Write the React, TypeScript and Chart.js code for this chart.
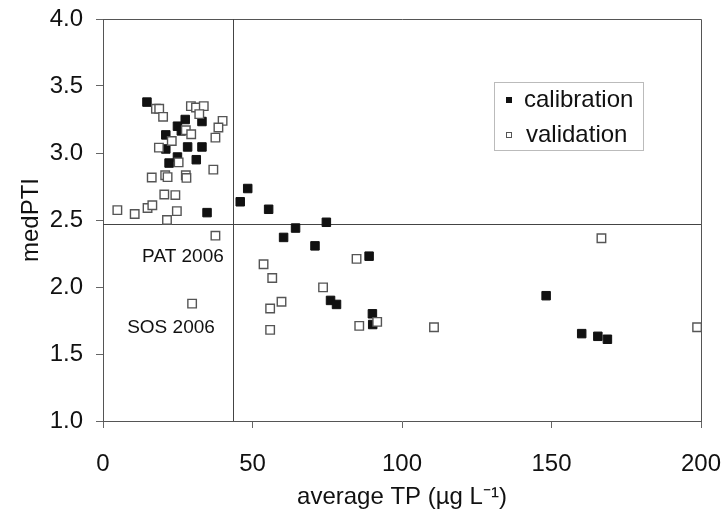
import { useEffect, useRef } from "react";
import { Chart, registerables } from "chart.js";

Chart.register(...registerables);

// ---- data ----
const seriesNames = ["calibration", "validation"];

const calibrationTP = [
  14.7, 27.5, 24.9, 33.1, 26.2, 21.0, 21.0, 28.3, 33.1, 24.9, 31.2, 22.1, 34.8,
  48.4, 45.9, 55.4, 64.4, 60.4, 74.7, 70.9, 89.0, 76.1, 78.1, 90.1, 90.2,
  148.2, 160.1, 165.5, 168.7,
];
const calibrationPTI = [
  3.38, 3.25, 3.2, 3.235, 3.165, 3.135, 3.03, 3.045, 3.045, 2.97, 2.95, 2.925, 2.555,
  2.735, 2.636, 2.58, 2.44, 2.37, 2.483, 2.307, 2.23, 1.9, 1.87, 1.8, 1.72,
  1.935, 1.652, 1.632, 1.61,
];

const validationTP = [
  17.7, 18.8, 20.1, 29.4, 31.1, 33.7, 32.2, 40.0, 38.6, 37.6, 27.7, 29.5, 23.0,
  18.7, 25.3, 36.9, 16.3, 20.8, 21.6, 27.7, 27.9, 20.5, 24.2, 4.8, 10.6, 14.9,
  16.5, 24.7, 21.4, 37.6, 29.8, 53.7, 56.6, 59.7, 55.9, 55.9, 84.8, 73.6, 91.7,
  85.7, 110.7, 166.7, 198.7,
];
const validationPTI = [
  3.33, 3.33, 3.27, 3.35, 3.34, 3.35, 3.29, 3.24, 3.19, 3.115, 3.17, 3.14, 3.09,
  3.04, 2.93, 2.876, 2.817, 2.834, 2.82, 2.834, 2.814, 2.69, 2.686, 2.574, 2.545, 2.59,
  2.61, 2.566, 2.5, 2.383, 1.876, 2.17, 2.067, 1.89, 1.84, 1.68, 2.21, 1.997, 1.74,
  1.71, 1.7, 2.364, 1.7,
];

const xTickValues = [0, 50, 100, 150, 200];
const yTickValues = [1.0, 1.5, 2.0, 2.5, 3.0, 3.5, 4.0];

const thresholdTP = 43.6;
const thresholdPTI = 2.47;

const noteLabels = ["PAT 2006", "SOS 2006"];
const noteTP = [40.4, 37.4];
const notePTI = [2.226, 1.697];

const FONT = '"Liberation Sans", Arial, sans-serif';

export default function App() {
  const canvasRef = useRef<HTMLCanvasElement | null>(null);

  useEffect(() => {
    const canvas = canvasRef.current;
    if (!canvas) return;

    const overlayPlugin = {
      id: "overlay",
      beforeDatasetsDraw(chart: any) {
        const { ctx, chartArea } = chart;
        const xs = chart.scales.x;
        const ys = chart.scales.y;
        ctx.save();
        // frame
        ctx.strokeStyle = "#555";
        ctx.lineWidth = 1;
        ctx.beginPath();
        ctx.moveTo(chartArea.left, chartArea.top + 0.5);
        ctx.lineTo(chartArea.right + 0.5, chartArea.top + 0.5);
        ctx.lineTo(chartArea.right + 0.5, chartArea.bottom);
        ctx.stroke();
        // threshold lines
        ctx.strokeStyle = "#444";
        const vx = Math.round(xs.getPixelForValue(thresholdTP)) + 0.5;
        const hy = Math.round(ys.getPixelForValue(thresholdPTI)) + 0.5;
        ctx.beginPath();
        ctx.moveTo(vx, chartArea.top);
        ctx.lineTo(vx, chartArea.bottom);
        ctx.moveTo(chartArea.left, hy);
        ctx.lineTo(chartArea.right, hy);
        ctx.stroke();
        // notes
        ctx.fillStyle = "#111";
        ctx.font = `19px ${FONT}`;
        ctx.textAlign = "right";
        ctx.textBaseline = "middle";
        noteLabels.forEach((t, i) => {
          ctx.fillText(t, xs.getPixelForValue(noteTP[i]), ys.getPixelForValue(notePTI[i]));
        });
        ctx.restore();
      },
      afterDraw(chart: any) {
        const { ctx, chartArea } = chart;
        ctx.save();
        const bx = chartArea.right - 207;
        const by = chartArea.top + 63;
        const bw = 149;
        const bh = 68;
        ctx.strokeStyle = "#bbb";
        ctx.lineWidth = 1;
        ctx.strokeRect(bx + 0.5, by + 0.5, bw, bh);
        ctx.font = `24px ${FONT}`;
        ctx.textAlign = "left";
        ctx.textBaseline = "middle";
        const rows = [by + 18, by + 53];
        ctx.fillStyle = "#111";
        ctx.fillRect(bx + 12, rows[0] - 3, 6, 6);
        ctx.fillStyle = "#fff";
        ctx.strokeStyle = "#555";
        ctx.fillRect(bx + 12, rows[1] - 3, 6, 6);
        ctx.strokeRect(bx + 12.5, rows[1] - 2.5, 5, 5);
        ctx.fillStyle = "#111";
        ctx.fillText(seriesNames[0], bx + 30, rows[0]);
        ctx.fillText(seriesNames[1], bx + 32, rows[1]);
        ctx.restore();
      },
    };

    const chart = new Chart(canvas, {
      type: "scatter",
      data: {
        datasets: [
          {
            label: seriesNames[0],
            data: calibrationTP.map((x, i) => ({ x, y: calibrationPTI[i] })),
            pointStyle: "rect",
            pointRadius: 6,
            backgroundColor: "#111",
            borderColor: "#111",
            borderWidth: 1,
            order: 2,
          },
          {
            label: seriesNames[1],
            data: validationTP.map((x, i) => ({ x, y: validationPTI[i] })),
            pointStyle: "rect",
            pointRadius: 6,
            backgroundColor: "#fff",
            borderColor: "#555",
            borderWidth: 1.4,
            order: 1,
          },
        ],
      },
      options: {
        responsive: false,
        animation: false,
        devicePixelRatio: 1,
        layout: { padding: { top: 19, right: 20, left: 0, bottom: 0 } },
        plugins: {
          legend: { display: false },
          tooltip: { enabled: false },
        },
        scales: {
          x: {
            type: "linear",
            min: 0,
            max: 200,
            afterBuildTicks: (s: any) => {
              s.ticks = xTickValues.map((v) => ({ value: v }));
            },
            afterFit: (s: any) => {
              s.height = 92;
              s.paddingLeft = 0;
              s.paddingRight = 0;
            },
            ticks: {
              color: "#111",
              font: { family: FONT, size: 24 },
              padding: 22,
              maxRotation: 0,
            },
            grid: {
              drawOnChartArea: false,
              drawTicks: true,
              tickLength: 7,
              color: "#666",
            },
            border: { display: true, color: "#555", width: 1 },
            title: {
              display: true,
              text: "average TP (µg L⁻¹)",
              color: "#111",
              font: { family: FONT, size: 24 },
              padding: { top: 0, bottom: 1 },
            },
          },
          y: {
            type: "linear",
            min: 1,
            max: 4,
            afterBuildTicks: (s: any) => {
              s.ticks = yTickValues.map((v) => ({ value: v }));
            },
            afterFit: (s: any) => {
              s.width = 103;
              s.paddingTop = 0;
              s.paddingBottom = 0;
            },
            ticks: {
              color: "#111",
              font: { family: FONT, size: 24 },
              padding: 13,
              callback: (v: any) => Number(v).toFixed(1),
            },
            grid: {
              drawOnChartArea: false,
              drawTicks: true,
              tickLength: 7,
              color: "#666",
            },
            border: { display: true, color: "#555", width: 1 },
            title: {
              display: true,
              text: "medPTI",
              color: "#111",
              font: { family: FONT, size: 24 },
              padding: { top: 17, bottom: 0 },
            },
          },
        },
      },
      plugins: [overlayPlugin],
    } as any);

    return () => chart.destroy();
  }, []);

  return (
    <div style={{ position: "absolute", left: 0, top: 0, width: 721, height: 513, background: "#fff" }}>
      <canvas ref={canvasRef} width={721} height={513} />
    </div>
  );
}
